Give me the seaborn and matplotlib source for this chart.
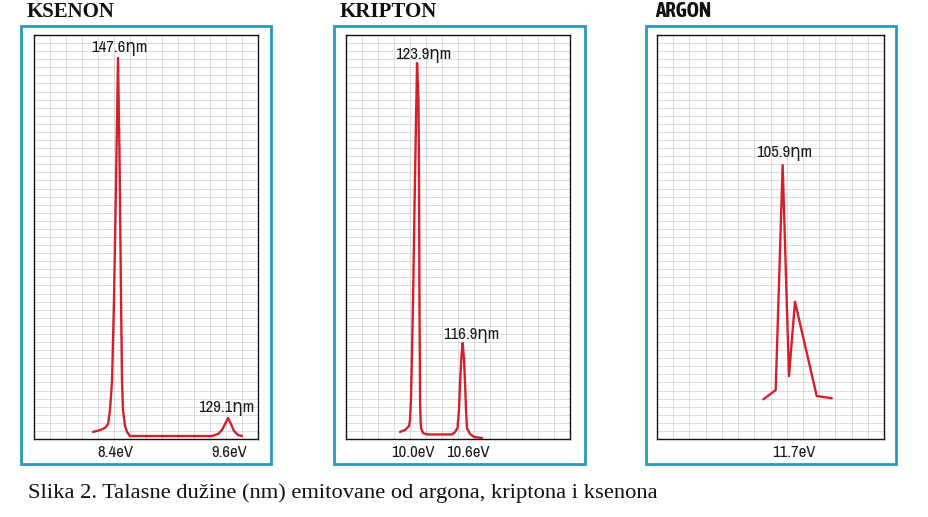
import numpy as np
import pandas as pd
import seaborn as sns
import matplotlib
matplotlib.use("Agg")
import matplotlib.pyplot as plt
from matplotlib import font_manager as fm
from matplotlib.patches import Rectangle

# ---------------- data (grid units: x 0-14 columns, y 0-50 rows) ----------------
xe_x = [3.69, 4.13, 4.44, 4.63, 4.75, 4.88, 5.00, 5.13, 5.25, 5.34, 5.44, 5.50, 5.56, 5.69,
        5.81, 6.00, 11.13, 11.50, 11.75, 11.94, 12.13, 12.31, 12.50, 12.75, 13.00]
xe_y = [0.87, 1.11, 1.36, 1.86, 3.59, 7.30, 17.2, 32.05, 47.15, 35.77, 17.2, 7.30, 3.59, 1.61,
        0.87, 0.37, 0.37, 0.62, 1.11, 1.86, 2.60, 1.86, 0.99, 0.50, 0.37]

kr_x = [3.375, 3.69, 3.94, 4.00, 4.06, 4.13, 4.19, 4.31, 4.44, 4.53, 4.56, 4.59, 4.63, 4.66,
        4.69, 4.81, 5.06, 6.63, 6.81, 6.97, 7.06, 7.13, 7.22, 7.29, 7.38, 7.44, 7.50, 7.56,
        7.75, 8.00, 8.50]
kr_y = [0.87, 1.11, 1.61, 2.35, 4.83, 11.01, 17.2, 32.05, 46.53, 41.96, 34.53, 17.2, 4.83, 2.35,
        1.36, 0.74, 0.56, 0.56, 0.87, 1.36, 3.59, 6.93, 10.4, 11.88, 9.78, 6.93, 3.59, 1.36,
        0.62, 0.25, 0.12]

ar_x = [6.56, 7.32, 7.75, 8.14, 8.51, 9.85, 10.78]
ar_y = [4.91, 6.06, 33.91, 7.80, 16.99, 5.32, 5.04]

titles = ["KSENON", "KRIPTON", "ARGON"]
xe_ticks, xe_ticklabels = [5.11, 12.2], ["8.4eV", "9.6eV"]
kr_ticks, kr_ticklabels = [4.16, 7.63], ["10.0eV", "10.6eV"]
ar_ticks, ar_ticklabels = [8.41], ["11.7eV"]
xe_peaks = [(5.25, 47.15, "147.6ηm"), (12.13, 2.60, "129.1ηm")]
kr_peaks = [(4.44, 46.53, "123.9ηm"), (7.29, 11.88, "116.9ηm")]
ar_peaks = [(7.75, 33.91, "105.9ηm")]
caption = "Slika 2. Talasne dužine (nm) emitovane od argona, kriptona i ksenona"

# ---------------- style ----------------
sns.set_style("white")
entries = fm.fontManager.ttflist
names = sorted({f.name for f in entries})
narrow_found = [n for n in names if ("Narrow" in n or "Condensed" in n)
                and "Serif" not in n and "Mono" not in n]

def has_bold(n):
    return any(f.name == n and (f.weight in ("bold", 700, 600, "semibold", "demibold")
                                or (isinstance(f.weight, int) and f.weight >= 600))
               for f in entries)

bold_narrow = [n for n in narrow_found if has_bold(n)]
if narrow_found:
    narrow = [narrow_found[0], "DejaVu Sans"]
    lab_fs = 12
else:
    narrow = ["Roboto", "DejaVu Sans"]
    lab_fs = 10.5
if bold_narrow:
    title_font, title_fs = [bold_narrow[0], "DejaVu Sans"], 15
else:
    title_font, title_fs = ["Roboto", "DejaVu Sans"], 12.5
serif = [f for f in ["Liberation Serif", "DejaVu Serif"] if f in names]
plt.rcParams["font.family"] = narrow

W, H = 929, 517
fig = plt.figure(figsize=(W / 100, H / 100), dpi=100)

def fx(px):
    return px / W

def fy(py):
    return 1 - py / H

RED = "#d4202c"
BLUE = "#2b98bd"
GRID = "#d6d6d9"
TXT = "#1a1a1a"

panels = [
    dict(ax=(34, 35, 258, 439), frame=(21, 25.5, 271.5, 464), x=xe_x, y=xe_y,
         ticks=xe_ticks, labels=xe_ticklabels, peaks=xe_peaks,
         offs=[(1.5, 6), (-1.5, 6)], title=(26.5, 17.3), tfont=serif, tfs=15),
    dict(ax=(346, 35, 570, 439), frame=(334.5, 25.5, 584.5, 464), x=kr_x, y=kr_y,
         ticks=kr_ticks, labels=kr_ticklabels, peaks=kr_peaks,
         offs=[(6, 4), (9, 4)], title=(340, 17.3), tfont=serif, tfs=15),
    dict(ax=(657, 35, 884, 439), frame=(646, 25.5, 896, 464), x=ar_x, y=ar_y,
         ticks=ar_ticks, labels=ar_ticklabels, peaks=ar_peaks,
         offs=[(1.5, 8)], title=(655, 17.3), tfont=title_font, tfs=title_fs),
]

for p, title in zip(panels, titles):
    x0, y0, x1, y1 = p["ax"]
    ax = fig.add_axes([fx(x0), fy(y1), (x1 - x0) / W, (y1 - y0) / H])
    df = pd.DataFrame({"x": p["x"], "y": p["y"]})
    sns.lineplot(data=df, x="x", y="y", ax=ax, color=RED, lw=1.7, sort=False,
                 estimator=None, zorder=3)
    ax.set_xlim(0, 14)
    ax.set_ylim(0, 50)
    ax.set_xticks(np.arange(0, 15), minor=True)
    ax.set_yticks(np.arange(0, 51), minor=True)
    ax.grid(which="minor", color=GRID, lw=0.6)
    ax.grid(which="major", visible=False)
    ax.set_xticks(p["ticks"])
    ax.set_xticklabels(p["labels"], fontsize=lab_fs, color=TXT)
    ax.set_yticks([])
    ax.tick_params(axis="x", which="both", length=0, pad=4)
    ax.tick_params(axis="y", which="both", length=0)
    ax.set_xlabel("")
    ax.set_ylabel("")
    for s in ax.spines.values():
        s.set_color("#111111")
        s.set_linewidth(1.0)
        s.set_visible(True)
    for (px, py, txt), (dx, dy) in zip(p["peaks"], p["offs"]):
        ax.annotate(txt, (px, py), xytext=(dx * 0.72, dy * 0.72), textcoords="offset points",
                    ha="center", va="baseline", fontsize=lab_fs, color=TXT, zorder=4)
    fx0, fy0, fx1, fy1 = p["frame"]
    fig.add_artist(Rectangle((fx(fx0), fy(fy1)), (fx1 - fx0) / W, (fy1 - fy0) / H,
                             transform=fig.transFigure, fill=False, edgecolor=BLUE, lw=2.0))
    tx, ty = p["title"]
    fig.text(fx(tx), fy(ty), title, family=p["tfont"], fontweight="bold", fontsize=p["tfs"],
             color="#111111", ha="left", va="baseline")

fig.text(fx(28), fy(498), caption, family=serif, fontsize=16.2, color="#111111",
         ha="left", va="baseline")

fig.savefig("out.png", dpi=100, facecolor="white")
